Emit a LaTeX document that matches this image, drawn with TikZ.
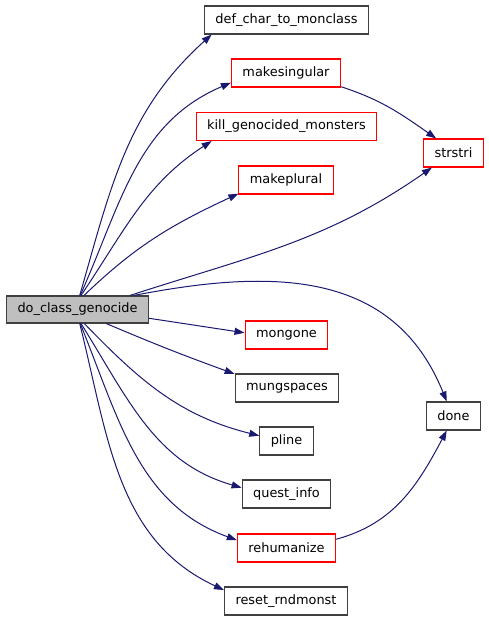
\documentclass[tikz,border=0pt]{standalone}
\usepackage{fontspec}
\setmainfont{DejaVu Sans}
\usetikzlibrary{arrows.meta}
\definecolor{GraphEdge}{HTML}{191970}
\definecolor{GraphFrame}{HTML}{404040}
\definecolor{GraphRed}{HTML}{FF0000}
\definecolor{GraphRoot}{HTML}{BFBFBF}
\newcommand{\FuncLabel}{\fontsize{12.9}{14}\selectfont}
\tikzset{
  func box/.style={draw=GraphFrame,line width=1.1pt,fill=white,minimum height=28pt,
    inner xsep=11pt,inner ysep=0pt,font=\FuncLabel},
  undoc box/.style={func box,draw=GraphRed},
  root box/.style={func box,fill=GraphRoot,minimum height=27pt},
  call/.style={draw=GraphEdge,line width=1pt,-{Triangle[length=10pt,width=7pt]}}
}

\begin{document}
\begin{tikzpicture}[x=1pt,y=1pt]
  \path[use as bounding box] (0,0) rectangle (488,621);

  % caller
  \node[root box] (genocide) at (77.5,311.5) {do\_class\_genocide};

  % callees
  \node[func box]  (defchar)    at (286.5,601) {def\_char\_to\_monclass};
  \node[undoc box] (makesing)   at (286,548)   {makesingular};
  \node[undoc box] (killgeno)   at (286.5,494.5) {kill\_genocided\_monsters};
  \node[undoc box] (strstri)    at (453.5,468) {strstri};
  \node[undoc box] (makeplural) at (286,441)   {makeplural};
  \node[undoc box] (mongone)    at (286.5,286) {mongone};
  \node[func box]  (mungspaces) at (287,233)   {mungspaces};
  \node[func box]  (done)       at (453.5,205) {done};
  \node[func box]  (pline)      at (286.5,180) {pline};
  \node[func box]  (questinfo)  at (286.5,127) {quest\_info};
  \node[undoc box] (rehumanize) at (286.5,73)  {rehumanize};
  \node[func box]  (resetrnd)   at (286,20)    {reset\_rndmonst};

  % calls going up
  \draw[call] (genocide.81) to[out=74,in=222] (defchar.191);
  \draw[call] (genocide.79) to[out=66,in=203] (makesing.190);
  \draw[call] (genocide.76) to[out=56,in=213] (killgeno.191);
  \draw[call] (genocide.65) to[out=44,in=205] (makeplural.196);
  \draw[call] (genocide.15) to[out=18,in=215] (strstri.214);
  \draw[call] (genocide.14) to[out=11,in=112,looseness=1.1] (done.115);

  % calls going right and down
  \draw[call] (genocide.-7) -- (mongone.177);
  \draw[call] (genocide.-26) to[out=-23,in=160] (mungspaces.165);
  \draw[call] (genocide.-64) to[out=-46,in=166] (pline.169);
  \draw[call] (genocide.-76) to[out=-58,in=164] (questinfo.172);
  \draw[call] (genocide.-79) to[out=-68,in=160] (rehumanize.171);
  \draw[call] (genocide.-81) to[out=-76,in=155] (resetrnd.170);

  % second level
  \draw[call] (makesing.-14) to[out=-18,in=145] (strstri.140);
  \draw[call] (rehumanize.10) to[out=15,in=242] (done.245);
\end{tikzpicture}
\end{document}
